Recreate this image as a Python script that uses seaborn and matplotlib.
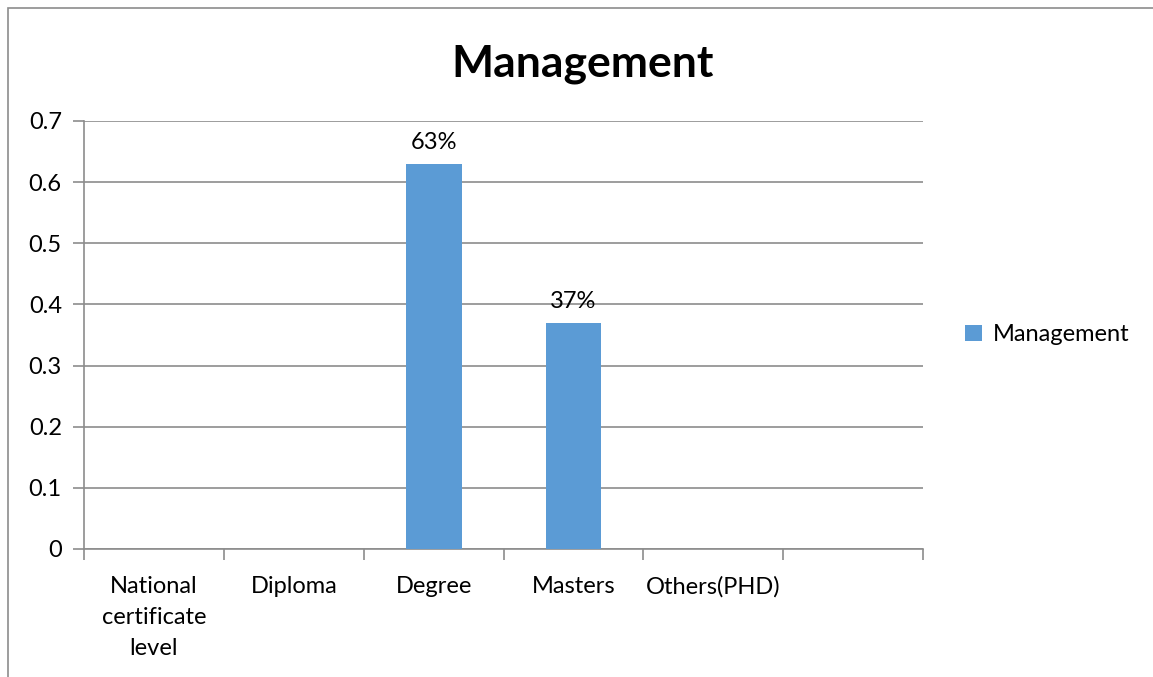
import numpy as np
import pandas as pd
import matplotlib
matplotlib.use("Agg")
import matplotlib.pyplot as plt
import seaborn as sns
from matplotlib.patches import Rectangle

categories = ["National\ncertificate\nlevel", "Diploma", "Degree", "Masters", "Others(PHD)", " "]
values = [0, 0, 0.63, 0.37, 0, 0]
labels = ["", "", "63%", "37%", "", ""]
series = "Management"

sns.set_style("white")
plt.rcParams["font.family"] = ["Lato", "DejaVu Sans"]
plt.rcParams["text.color"] = "black"
plt.rcParams["xtick.color"] = "black"
plt.rcParams["ytick.color"] = "black"

df = pd.DataFrame({"category": categories, "value": values, "series": series})

fig = plt.figure(figsize=(11.53, 6.77), dpi=100)
ax = fig.add_axes([0.0729, 0.1891, 0.7277, 0.6322])

grid_c = "#8c8c8c"
sns.barplot(data=df, x="category", y="value", hue="series", palette=["#5b9bd5"],
            saturation=1, width=0.4, linewidth=0, ax=ax, zorder=3)

ax.set_ylim(0, 0.7)
ax.set_xlim(-0.5, 5.5)
ax.set_yticks(np.arange(0, 0.71, 0.1))
ax.set_yticklabels(["0", "0.1", "0.2", "0.3", "0.4", "0.5", "0.6", "0.7"])
ax.yaxis.grid(True, color=grid_c, linewidth=1.2, zorder=0)
ax.set_axisbelow(True)
ax.set_xlabel("")
ax.set_ylabel("")

for s in ["top", "right"]:
    ax.spines[s].set_visible(False)
for s in ["left", "bottom"]:
    ax.spines[s].set_color(grid_c)
    ax.spines[s].set_linewidth(1.2)

ax.tick_params(axis="y", which="major", left=True, length=8, color=grid_c,
               labelcolor="black", labelsize=17, pad=8, width=1.2)
ax.tick_params(axis="x", which="major", bottom=False, labelcolor="black",
               labelsize=17, pad=16)
ax.set_xticks(np.arange(-0.5, 6, 1), minor=True)
ax.tick_params(axis="x", which="minor", bottom=True, length=8, color=grid_c, width=1.2)

for lbl in ax.get_xticklabels():
    lbl.set_linespacing(1.6)
    lbl.set_verticalalignment("top")

for i, (v, t) in enumerate(zip(values, labels)):
    if t:
        ax.text(i, v + 0.018, t, ha="center", va="bottom", fontsize=17, color="black")

fig.text(0.5055, 0.906, "Management", fontsize=32, fontweight="bold", ha="center",
         va="center", color="black")

leg = ax.legend(loc="center left", bbox_to_anchor=(1.025, 0.5), frameon=False,
                fontsize=17, handlelength=0.7, handleheight=0.7, handletextpad=0.45)
for t in leg.get_texts():
    t.set_color("black")

fig.patches.append(Rectangle((8 / 1153, -0.1), 2, 1.1 - 8 / 677, transform=fig.transFigure,
                             fill=False, edgecolor=grid_c, linewidth=1.2))

fig.savefig("out.png", dpi=100)
